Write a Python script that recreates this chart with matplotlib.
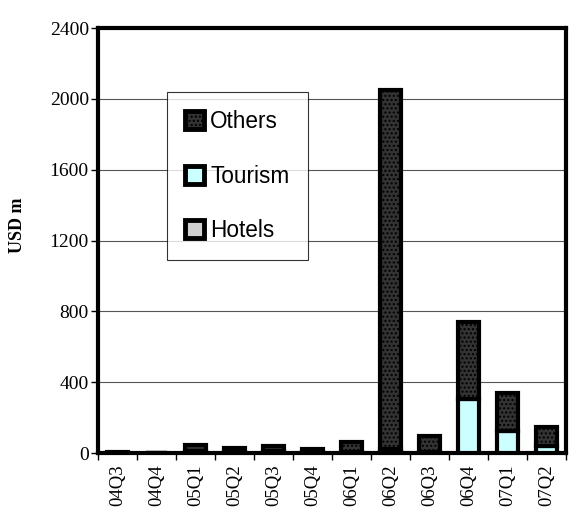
import numpy as np
import matplotlib.pyplot as plt

quarters = ['04Q3', '04Q4', '05Q1', '05Q2', '05Q3', '05Q4',
            '06Q1', '06Q2', '06Q3', '06Q4', '07Q1', '07Q2']
hotels = [0, 0, 2, 1, 2, 1, 1, 5, 1, 2, 2, 1]
tourism = [2, 0, 8, 3, 10, 3, 3, 20, 4, 305, 125, 40]
others = [6, 0, 35, 26, 28, 21, 56, 2025, 90, 433, 210, 105]

plt.rcParams['font.family'] = ['Liberation Serif', 'DejaVu Serif']

fig = plt.figure(figsize=(5.72, 5.19), dpi=100)
ax = fig.add_axes([0.171, 0.127, 0.819, 0.819])

x = np.arange(len(quarters))
w = 0.55
hotels = np.array(hotels)
tourism = np.array(tourism)
others = np.array(others)

# stacked bars, heavy black outline like the original
ax.bar(x, hotels, w, color='#d0d0d0', edgecolor='black', linewidth=3, label='Hotels', zorder=3)
ax.bar(x, tourism, w, bottom=hotels, color='#ccffff', edgecolor='black', linewidth=3,
       label='Tourism', zorder=3)
ax.bar(x, others, w, bottom=hotels + tourism, color='#333333', edgecolor='black', linewidth=3,
       hatch='....', label='Others', zorder=3)

ax.set_xlim(-0.5, len(quarters) - 0.5)
ax.set_ylim(0, 2400)
ax.set_yticks(np.arange(0, 2401, 400))
ax.yaxis.grid(True, color='#555555', linewidth=0.8, zorder=0)

ax.set_xticks(x)
ax.set_xticklabels(quarters, rotation=90, fontsize=13.5)
ax.tick_params(axis='x', which='major', length=0, pad=8)
ax.set_xticks(np.arange(-0.5, len(quarters), 1), minor=True)
ax.tick_params(axis='x', which='minor', length=5, width=1, direction='out')
ax.tick_params(axis='y', labelsize=14, length=5, width=1, direction='out', pad=1.5)

for s in ax.spines.values():
    s.set_linewidth(3)

ax.set_ylabel('USD m', fontsize=13, fontweight='bold')
ax.yaxis.set_label_coords(-0.154, 0.536)

h, l = ax.get_legend_handles_labels()
leg = ax.legend(h[::-1], l[::-1], loc='upper left', bbox_to_anchor=(0.148, 0.85),
                prop={'family': 'Liberation Sans', 'size': 16.3},
                frameon=True, fancybox=False, edgecolor='black',
                handlelength=0.85, handleheight=0.85, handletextpad=0.25,
                labelspacing=1.4, borderpad=0.8, borderaxespad=0)
leg.get_frame().set_linewidth(0.8)
for p in leg.get_patches():
    p.set_linewidth(3.5)

fig.savefig('out.png', dpi=100)
